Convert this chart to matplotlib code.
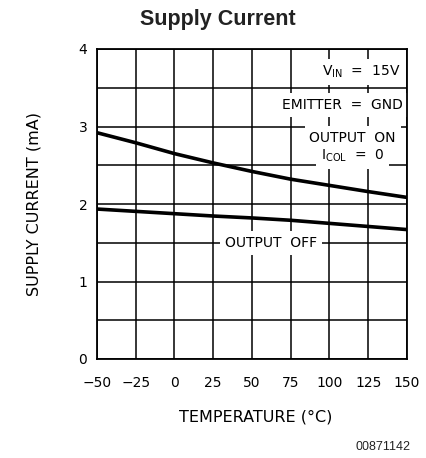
import matplotlib
matplotlib.use("Agg")
import matplotlib.pyplot as plt
import numpy as np

# Supply current vs temperature
temp = [-50, -25, 0, 25, 50, 75, 100, 125, 150]
i_on = [2.92, 2.79, 2.65, 2.53, 2.42, 2.32, 2.24, 2.16, 2.085]
i_off = [1.935, 1.905, 1.875, 1.845, 1.82, 1.79, 1.75, 1.71, 1.67]

x_ticks = [-50, -25, 0, 25, 50, 75, 100, 125, 150]
y_ticks = [0, 1, 2, 3, 4]

W, H = 427, 458
fig = plt.figure(figsize=(W / 100, H / 100), dpi=100)
ax = fig.add_axes([97 / W, 1 - 359 / H, 310 / W, 310 / H])

ax.set_xlim(-50, 150)
ax.set_ylim(0, 4)
ax.set_xticks(x_ticks)
ax.set_xticklabels([str(t).replace("-", "\u2212") for t in x_ticks])
ax.set_yticks(y_ticks)
ax.set_yticks(np.arange(0, 4.01, 0.5), minor=True)
ax.tick_params(which="both", length=0, labelsize=10)
ax.tick_params(axis="x", pad=12)
ax.tick_params(axis="y", pad=7)
ax.grid(which="both", color="black", linewidth=1.1)
ax.set_axisbelow(True)
for s in ax.spines.values():
    s.set_linewidth(1.3)

ax.plot(temp, i_on, color="black", lw=2.6, solid_capstyle="butt", zorder=3)
ax.plot(temp, i_off, color="black", lw=2.6, solid_capstyle="butt", zorder=3)

box = dict(facecolor="white", edgecolor="none", pad=3.5)
ax.text(145.5, 3.7, "V$_{\\mathregular{IN}}$  =  15V", ha="right", va="center",
        fontsize=10, bbox=box, zorder=2)
ax.text(147.5, 3.28, "EMITTER  =  GND", ha="right", va="center",
        fontsize=10, bbox=box, zorder=2)
ax.text(115, 2.85, "OUTPUT  ON", ha="center", va="center",
        fontsize=10, bbox=box, zorder=2)
ax.text(115, 2.62, "I$_{\\mathregular{COL}}$  =  0", ha="center", va="center",
        fontsize=10, bbox=box, zorder=2)
ax.text(62.5, 1.5, "OUTPUT  OFF", ha="center", va="center",
        fontsize=10, bbox=box, zorder=2)

fig.text(218 / W, 1 - 19 / H, "Supply Current", ha="center", va="center",
         fontsize=15.5, fontweight="bold", family="Liberation Sans", color="#222222")
fig.text(34 / W, 1 - 204 / H, "SUPPLY CURRENT (mA)", rotation=90,
         ha="center", va="center", fontsize=11.5)
fig.text(256 / W, 1 - 417 / H, "TEMPERATURE (\u00b0C)", ha="center", va="center",
         fontsize=11.5)
fig.text(411 / W, 1 - 447 / H, "00871142", ha="right", va="center",
         fontsize=9, family="Liberation Sans", color="#222222")

fig.savefig("out.png", dpi=100)
